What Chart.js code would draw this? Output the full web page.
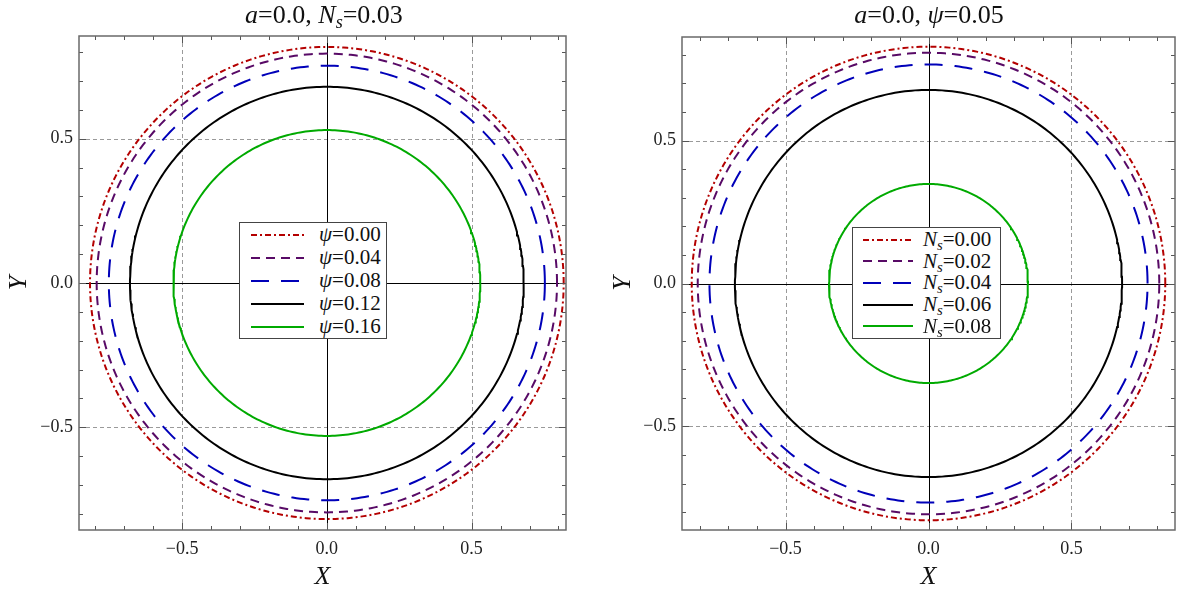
<!DOCTYPE html>
<html>
<head>
<meta charset="utf-8">
<script src="https://cdn.jsdelivr.net/npm/chart.js@4.4.1/dist/chart.umd.min.js"></script>
<style>
  body { margin: 0; background: #fff; width: 1181px; height: 595px; position: relative; overflow: hidden; }
  .panel { position: absolute; top: 0; }
  .title { position: absolute; top: 0; width: 400px; text-align: center; font: 26px "Liberation Serif", serif; line-height: 30px; color: #111; white-space: nowrap; }
  .legend { position: absolute; background: #fff; border: 1px solid #444; font: 21px "Liberation Serif", serif; color: #111; }
  .legend .row { display: flex; align-items: center; white-space: nowrap; }
  .legend svg { display: block; }
  sub { font-size: 70%; vertical-align: -0.25em; line-height: 0; }
</style>
</head>
<body>

<div class="panel" style="left:0;width:600px;height:595px"><canvas id="chart-left" width="600" height="595"></canvas></div>
<div class="panel" style="left:600px;width:581px;height:595px"><canvas id="chart-right" width="581" height="595"></canvas></div>

<div class="title" style="left:124px"><i>a</i>=0.0, <i>N<sub>s</sub></i>=0.03</div>
<div class="title" style="left:729px"><i>a</i>=0.0, <i>&psi;</i>=0.05</div>

<div id="legend-left" class="legend" style="left:239px;top:222px;width:146px;height:115px"></div>
<div id="legend-right" class="legend" style="left:852px;top:227px;width:147px;height:110px"></div>

<script>
// Shadow radii.
// Left: a=0.0, N_s=0.03, varying psi.  Right: a=0.0, psi=0.05, varying N_s.
var PSI_VALUES   = ["0.00", "0.04", "0.08", "0.12", "0.16"];
var LEFT_RADII   = [0.818, 0.795, 0.753, 0.680, 0.530];
var NS_VALUES    = ["0.00", "0.02", "0.04", "0.06", "0.08"];
var RIGHT_RADII  = [0.828, 0.807, 0.766, 0.677, 0.348];
var TICK_VALUES  = [-0.5, 0, 0.5];
var GRID_VALUES  = [-0.5, 0.5];

var LINE_COLORS = ["rgb(180,0,0)", "rgb(88,10,102)", "rgb(0,0,185)", "#000000", "rgb(0,170,0)"];
var LINE_DASHES = [[6, 3, 2, 3], [9, 6], [18, 12], [], []];

var SERIF = '"Liberation Serif", "Times New Roman", serif';

function circlePoints(r) {
  var pts = [];
  for (var i = 0; i <= 360; i++) {
    var t = i * Math.PI / 180;
    pts.push({ x: r * Math.cos(t), y: r * Math.sin(t) });
  }
  return pts;
}

function fmtTick(v) {
  var s = Math.abs(v).toFixed(1);
  return v < 0 ? "\u2212" + s : s;
}

// Mathematica style frame: dashed grid at +-0.5, axes at 0, inward ticks on all sides
var frameAxes = {
  id: "frameAxes",
  beforeDatasetsDraw: function(chart) {
    var ctx = chart.ctx, a = chart.chartArea, x = chart.scales.x, y = chart.scales.y;
    ctx.save();
    ctx.lineWidth = 1;
    ctx.strokeStyle = "#9a9a9a";
    ctx.setLineDash([4, 3]);
    GRID_VALUES.forEach(function(v) {
      var px = Math.round(x.getPixelForValue(v)) + 0.5;
      var py = Math.round(y.getPixelForValue(v)) + 0.5;
      ctx.beginPath(); ctx.moveTo(px, a.top); ctx.lineTo(px, a.bottom); ctx.stroke();
      ctx.beginPath(); ctx.moveTo(a.left, py); ctx.lineTo(a.right, py); ctx.stroke();
    });
    ctx.setLineDash([]);
    ctx.strokeStyle = "#000";
    var x0 = Math.round(x.getPixelForValue(0)) + 0.5;
    var y0 = Math.round(y.getPixelForValue(0)) + 0.5;
    ctx.beginPath(); ctx.moveTo(x0, a.top); ctx.lineTo(x0, a.bottom); ctx.stroke();
    ctx.beginPath(); ctx.moveTo(a.left, y0); ctx.lineTo(a.right, y0); ctx.stroke();
    ctx.restore();
  },
  afterDatasetsDraw: function(chart) {
    var ctx = chart.ctx, a = chart.chartArea, x = chart.scales.x, y = chart.scales.y;
    ctx.save();
    ctx.strokeStyle = "#555";
    ctx.lineWidth = 1;
    for (var k = -9; k <= 9; k++) {
      var v = k / 10;
      var len = (k % 5 === 0) ? 7 : 4;
      if (v > x.min && v < x.max) {
        var px = Math.round(x.getPixelForValue(v)) + 0.5;
        ctx.beginPath();
        ctx.moveTo(px, a.bottom); ctx.lineTo(px, a.bottom - len);
        ctx.moveTo(px, a.top); ctx.lineTo(px, a.top + len);
        ctx.stroke();
      }
      if (v > y.min && v < y.max) {
        var py = Math.round(y.getPixelForValue(v)) + 0.5;
        ctx.beginPath();
        ctx.moveTo(a.left, py); ctx.lineTo(a.left + len, py);
        ctx.moveTo(a.right, py); ctx.lineTo(a.right - len, py);
        ctx.stroke();
      }
    }
    ctx.strokeStyle = "#6a6a6a";
    ctx.lineWidth = 1.5;
    ctx.strokeRect(a.left, a.top, a.right - a.left, a.bottom - a.top);
    ctx.restore();
  }
};

function axisConfig(lo, hi, axisTitle, fit, titlePad, tickPad) {
  return {
    type: "linear",
    min: lo,
    max: hi,
    afterBuildTicks: function(scale) {
      scale.ticks = TICK_VALUES.map(function(v) { return { value: v }; });
    },
    afterFit: fit,
    grid: { display: false, drawTicks: false },
    border: { display: false },
    ticks: {
      autoSkip: false,
      maxRotation: 0,
      padding: tickPad,
      color: "#222",
      font: { family: SERIF, size: 18 },
      callback: function(v) { return fmtTick(v); }
    },
    title: {
      display: true,
      text: axisTitle,
      color: "#111",
      padding: titlePad,
      font: { family: SERIF, size: 26, style: "italic" }
    }
  };
}

function makeChart(canvasId, radii, labels, xRange, yRange, leftWidth, padding, yTitlePad) {
  var datasets = radii.map(function(r, i) {
    return {
      label: labels[i],
      data: circlePoints(r),
      showLine: true,
      borderColor: LINE_COLORS[i],
      borderDash: LINE_DASHES[i],
      borderWidth: 2,
      pointRadius: 0,
      fill: false,
      tension: 0
    };
  });
  // inner circles painted first so the outer dashed ones sit on top
  datasets.reverse();

  return new Chart(document.getElementById(canvasId), {
    type: "scatter",
    data: { datasets: datasets },
    options: {
      responsive: false,
      animation: false,
      layout: { padding: padding },
      plugins: { legend: { display: false }, tooltip: { enabled: false } },
      scales: {
        x: axisConfig(xRange[0], xRange[1], "X", function(s) { s.height = 65; }, { top: 0, bottom: 2 }, 8),
        y: axisConfig(yRange[0], yRange[1], "Y", function(s) { s.width = leftWidth; }, { top: yTitlePad, bottom: 0 }, 6)
      }
    },
    plugins: [frameAxes]
  });
}

function buildLegend(chart, boxId, sampleLen, textGap, rowH, padTop, padLeft) {
  var box = document.getElementById(boxId);
  var sets = chart.data.datasets.slice().reverse();
  var html = '<div style="padding:' + padTop + 'px 0 0 ' + padLeft + 'px">';
  sets.forEach(function(ds) {
    html += (
      '<div class="row" style="height:' + rowH + 'px">' +
        '<svg width="' + sampleLen + '" height="6"><line x1="0" y1="3" x2="' + sampleLen + '" y2="3" stroke="' +
          ds.borderColor + '" stroke-width="2" stroke-dasharray="' + (ds.borderDash.join(",") || "none") + '"/></svg>' +
        '<span style="margin-left:' + textGap + 'px">' + ds.label + '</span>' +
      '</div>'
    );
  });
  html += '</div>';
  box.innerHTML = html;
}

var leftLabels = PSI_VALUES.map(function(v) { return '<i>&psi;</i>=' + v; });
var rightLabels = NS_VALUES.map(function(v) { return '<i>N<sub>s</sub></i>=' + v; });

var leftChart = makeChart("chart-left", LEFT_RADII, leftLabels, [-0.856, 0.826], [-0.856, 0.856], 79,
  { top: 36, right: 34, bottom: 0, left: 0 }, 4);
var rightChart = makeChart("chart-right", RIGHT_RADII, rightLabels, [-0.862, 0.862], [-0.862, 0.862], 82,
  { top: 37, right: 6, bottom: 0, left: 0 }, 8);

buildLegend(leftChart, "legend-left", 53, 15, 23, 0, 11);
buildLegend(rightChart, "legend-right", 50, 10, 21.6, 1, 10);
</script>
</body>
</html>
